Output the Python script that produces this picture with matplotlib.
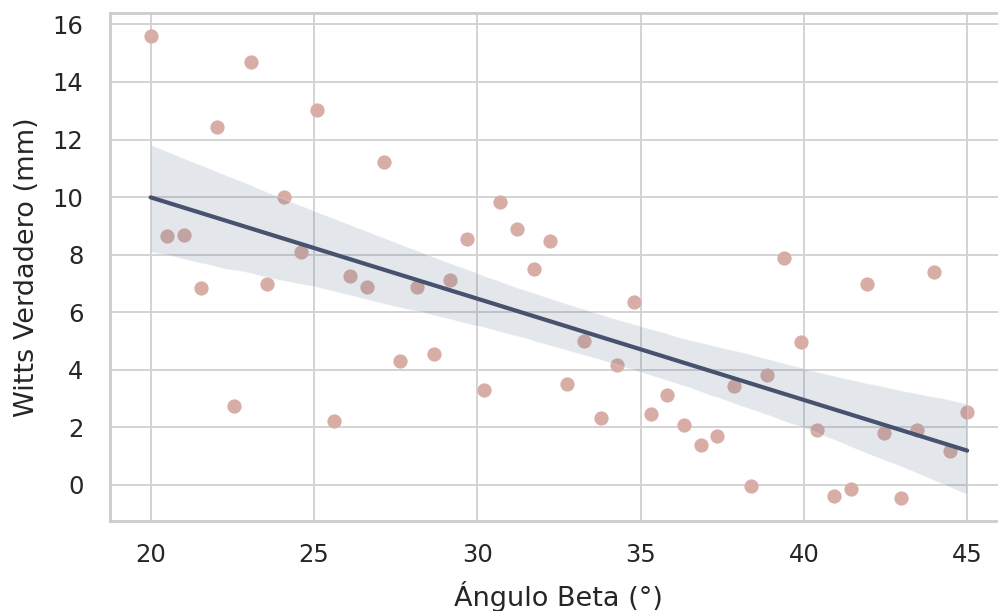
import matplotlib
matplotlib.use("Agg")
import matplotlib.pyplot as plt
import seaborn as sns

# Ángulo Beta (°) — 50 muestras equiespaciadas de 20 a 45
angulo_beta = [
    20.00, 20.51, 21.02, 21.53, 22.04, 22.55, 23.06, 23.57, 24.08, 24.59,
    25.10, 25.61, 26.12, 26.63, 27.14, 27.65, 28.16, 28.67, 29.18, 29.69,
    30.20, 30.71, 31.22, 31.73, 32.24, 32.76, 33.27, 33.78, 34.29, 34.80,
    35.31, 35.82, 36.33, 36.84, 37.35, 37.86, 38.37, 38.88, 39.39, 39.90,
    40.41, 40.92, 41.43, 41.94, 42.45, 42.96, 43.47, 43.98, 44.49, 45.00,
]
# Witts Verdadero (mm)
witts = [
    15.58, 8.63, 8.68, 6.84, 12.45, 2.75, 14.69, 6.98, 10.00, 8.09,
    13.03, 2.21, 7.26, 6.87, 11.22, 4.31, 6.86, 4.54, 7.13, 8.56,
    3.28, 9.83, 8.89, 7.50, 8.48, 3.51, 5.01, 2.34, 4.15, 6.36,
    2.47, 3.13, 2.08, 1.39, 1.69, 3.45, -0.05, 3.81, 7.88, 4.95,
    1.91, -0.38, -0.16, 6.98, 1.82, -0.44, 1.89, 7.39, 1.18, 2.53,
]

POINT_COLOR = "#d8ada6"
LINE_COLOR = "#46526e"
BAND_COLOR = "#5b7394"

sns.set_theme(style="whitegrid")
plt.rcParams["font.family"] = ["DejaVu Sans"]

fig = plt.figure(figsize=(9.98, 6.11), dpi=100)
ax = fig.add_axes([0.110, 0.148, 0.900, 0.830])

sns.regplot(
    x=angulo_beta, y=witts, ax=ax, ci=95, seed=42,
    scatter_kws={"s": 105, "color": POINT_COLOR, "alpha": 1.0, "linewidths": 0},
    line_kws={"color": LINE_COLOR, "linewidth": 3},
)
# banda de confianza: tono gris azulado
if len(ax.collections) > 1:
    ax.collections[1].set_facecolor(BAND_COLOR)
    ax.collections[1].set_alpha(0.17)

ax.set_xlim(18.75, 46.25)
ax.set_ylim(-1.24, 16.38)
ax.set_yticks(range(0, 17, 2))
ax.set_xticks(range(20, 46, 5))

ax.set_xlabel("Ángulo Beta (°)", fontsize=19.5, color="#262626", labelpad=10)
ax.set_ylabel("Witts Verdadero (mm)", fontsize=19.5, color="#262626", labelpad=9)
ax.tick_params(axis="y", labelsize=17.5, colors="#262626", pad=13)
ax.tick_params(axis="x", labelsize=17.5, colors="#262626", pad=10)

ax.grid(color="#d3d3d3", linewidth=1.4)
for sp in ax.spines.values():
    sp.set_color("#cccccc")
    sp.set_linewidth(2)

fig.savefig("out.png", dpi=100)
